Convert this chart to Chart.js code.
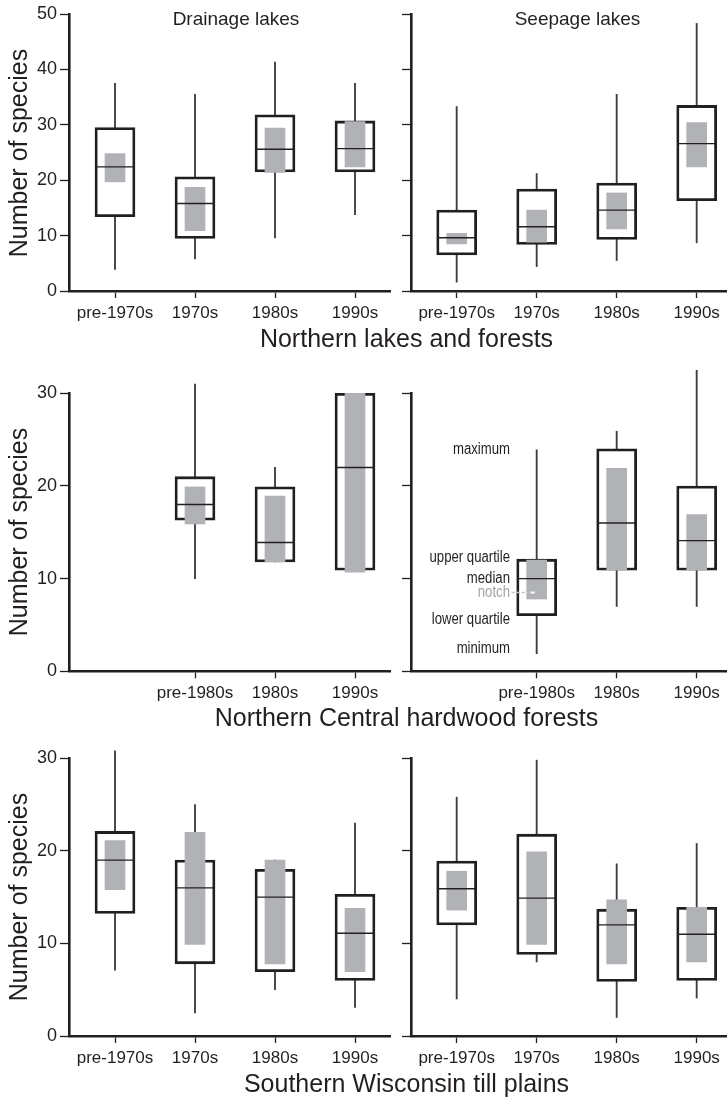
<!DOCTYPE html>
<html>
<head>
<meta charset="utf-8">
<script src="https://cdn.jsdelivr.net/npm/chart.js@4.4.0/dist/chart.umd.min.js"></script>
<style>
  body { margin: 0; background: #fff; width: 727px; height: 1098px; position: relative; overflow: hidden;
         font-family: 'Liberation Sans', Arial, sans-serif; color: #231f20; }
  canvas { position: absolute; }
  .t { position: absolute; white-space: nowrap; }
  .panel { font-size: 19px; line-height: 20px; top: 9.4px; transform: translateX(-50%); }
  .row { font-size: 25px; line-height: 30px; left: 406.5px; transform: translateX(-50%); }
  .ytitle { font-size: 25px; line-height: 30px; height: 30px; width: 278px; left: -121px; text-align: center; transform: rotate(-90deg); }
</style>
</head>
<body>
<canvas id="c1" width="392" height="330" style="left:0;top:0"></canvas>
<canvas id="c2" width="335" height="330" style="left:392px;top:0"></canvas>
<canvas id="c3" width="392" height="340" style="left:0;top:370px"></canvas>
<canvas id="c4" width="335" height="340" style="left:392px;top:370px"></canvas>
<canvas id="c5" width="392" height="340" style="left:0;top:735px"></canvas>
<canvas id="c6" width="335" height="340" style="left:392px;top:735px"></canvas>

<div class="t panel" style="left:236px">Drainage lakes</div>
<div class="t panel" style="left:577.5px">Seepage lakes</div>
<div class="t row" style="top:323px">Northern lakes and forests</div>
<div class="t row" style="top:702.3px">Northern Central hardwood forests</div>
<div class="t row" style="top:1068px">Southern Wisconsin till plains</div>
<div class="t ytitle" style="top:137.5px">Number of species</div>
<div class="t ytitle" style="top:517.3px">Number of species</div>
<div class="t ytitle" style="top:882.2px">Number of species</div>

<script>
// categories and tick labels
var periodsA = ['pre-1970s', '1970s', '1980s', '1990s'];
var periodsB = ['pre-1980s', '1980s', '1990s'];
var slotsA = [1, 2, 3, 4];
var slotsB = [2, 3, 4];
var yTicksTop = [0, 10, 20, 30, 40, 50];
var yTicksLow = [0, 10, 20, 30];

// each row: min, lower quartile, median, upper quartile, max, notch low, notch high
var nlfDrainage = [
  [3.9, 13.4, 22.4, 29.5, 37.5, 19.7, 24.8],
  [5.8, 9.5, 15.8, 20.6, 35.5, 10.9, 18.7],
  [9.6, 21.5, 25.6, 31.8, 41.3, 21.4, 29.4],
  [13.8, 21.5, 25.7, 30.7, 37.5, 22.4, 30.6]
];
var nlfSeepage = [
  [1.6, 6.5, 9.6, 14.6, 33.3, 8.5, 10.4],
  [4.4, 8.4, 11.6, 18.4, 21.2, 8.8, 14.6],
  [5.5, 9.3, 14.6, 19.5, 35.5, 11.2, 17.7],
  [8.7, 16.3, 26.6, 33.5, 48.3, 22.4, 30.4]
];
var nchfDrainage = [
  [10.0, 16.3, 18.0, 21.0, 31.0, 15.9, 19.9],
  [11.8, 11.8, 13.9, 19.9, 22.0, 11.8, 18.9],
  [10.9, 10.9, 22.0, 30.0, 30.0, 10.7, 30.0]
];
var nchfSeepage = [
  [1.9, 6.0, 10.0, 12.1, 23.9, 7.8, 12.0],
  [7.0, 10.9, 16.0, 24.0, 25.9, 10.9, 21.9],
  [7.0, 10.9, 14.1, 20.0, 33.1, 10.9, 16.9]
];
var swtpDrainage = [
  [7.1, 13.25, 19.0, 22.1, 30.8, 15.8, 21.1],
  [2.5, 7.8, 16.0, 19.0, 25.0, 9.9, 22.0],
  [5.0, 6.95, 15.0, 18.0, 19.0, 7.8, 19.0],
  [3.1, 6.0, 11.1, 15.3, 23.0, 6.95, 13.8]
];
var swtpSeepage = [
  [4.0, 12.0, 15.9, 18.9, 25.8, 13.6, 17.8],
  [8.0, 8.8, 14.9, 21.8, 29.8, 9.9, 19.9],
  [2.0, 5.9, 12.0, 13.7, 18.6, 7.8, 14.7],
  [4.1, 6.0, 11.0, 13.9, 20.8, 8.0, 13.9]
];

// legend text drawn beside the first box of the seepage panel
var guideLabels = ['maximum', 'upper quartile', 'median', 'notch', 'lower quartile', 'minimum'];
var guideLevels = [23.9, 12.3, 10.0, 8.5, 5.6, 2.5];

var INK = '#231f20';
Chart.defaults.font.family = "'Liberation Sans', Arial, sans-serif";
Chart.defaults.color = INK;

var guidePlugin = {
  id: 'guide',
  afterDatasetsDraw: function(chart) {
    var ctx = chart.ctx, x = chart.scales.x, y = chart.scales.y;
    var cx = x.getPixelForValue(slotsB[0]);
    ctx.save();
    ctx.font = '16px "Liberation Sans Narrow", "Liberation Sans", sans-serif';
    var sx = Math.min(1, 57 / ctx.measureText('maximum').width);
    ctx.textAlign = 'right';
    ctx.textBaseline = 'middle';
    guideLabels.forEach(function(t, i) {
      ctx.save();
      ctx.translate(cx - 26.7, y.getPixelForValue(guideLevels[i]));
      ctx.scale(sx, 1);
      ctx.fillStyle = t === 'notch' ? '#a3a3a3' : INK;
      ctx.fillText(t, 0, 0);
      ctx.restore();
    });
    var py = y.getPixelForValue(guideLevels[3]);
    ctx.strokeStyle = '#c4c4c4';
    ctx.lineWidth = 1.5;
    ctx.setLineDash([3, 2]);
    ctx.beginPath();
    ctx.moveTo(cx - 25, py);
    ctx.lineTo(cx - 6, py);
    ctx.stroke();
    ctx.fillStyle = '#fff';
    ctx.fillRect(cx - 6, py - 1, 4, 2);
    ctx.restore();
  }
};

function panel(id, rows, slots, names, yTicks, isLeft, padTop, axisH, plugins) {
  var span = function(a, b) { return rows.map(function(r, i) { return {x: slots[i], y: [r[a], r[b]]}; }); };
  var at = function(k) { return rows.map(function(r, i) { return {x: slots[i], y: r[k]}; }); };
  new Chart(document.getElementById(id), {
    type: 'bar',
    data: {
      datasets: [
        {data: span(0, 4), backgroundColor: '#3d3d3d', barThickness: 1.2, maxBarThickness: 1.2, order: 4},
        {data: span(1, 3), backgroundColor: '#fff', borderColor: INK, borderWidth: 2.8, barThickness: 40, maxBarThickness: 40, order: 3},
        {data: span(5, 6), backgroundColor: '#b1b2b5', barThickness: 20, maxBarThickness: 20, order: 2},
        {type: 'scatter', data: at(2), pointStyle: 'line', pointRadius: 19, pointBorderColor: INK, pointBorderWidth: 1.4, borderColor: INK, order: 1, clip: false}
      ]
    },
    options: {
      responsive: false,
      devicePixelRatio: 1,
      animation: false,
      events: [],
      datasets: {bar: {grouped: false, borderSkipped: false, clip: false}},
      layout: {autoPadding: false, padding: {top: padTop, right: isLeft ? 2 : 0, left: 0, bottom: 0}},
      plugins: {legend: {display: false}, tooltip: {enabled: false}},
      scales: {
        x: {
          type: 'linear',
          min: isLeft ? 0.425 : 0.429,
          max: isLeft ? 4.4375 : 4.379,
          offset: false,
          afterBuildTicks: function(s) { s.ticks = slots.map(function(v) { return {value: v}; }); },
          afterFit: function(s) { s.height = axisH; s.paddingLeft = 0; s.paddingRight = 0; },
          ticks: {callback: function(v, i) { return names[i]; }, padding: 5, font: {size: 17}, color: INK, maxRotation: 0, autoSkip: false},
          grid: {display: true, drawOnChartArea: false, offset: false, tickLength: 7, tickWidth: 1.3, tickColor: INK},
          border: {display: true, width: 2.6, color: INK}
        },
        y: {
          type: 'linear',
          min: 0,
          max: yTicks[yTicks.length - 1],
          afterBuildTicks: function(s) { s.ticks = yTicks.map(function(v) { return {value: v}; }); },
          afterFit: function(s) { s.width = isLeft ? 69 : 19; s.paddingTop = 0; s.paddingBottom = 0; },
          ticks: {callback: function(v) { return isLeft ? String(v) : ''; }, padding: 3, font: {size: 18}, color: INK},
          grid: {drawOnChartArea: false, tickLength: 9, tickWidth: 1.3, tickColor: INK},
          border: {display: true, width: 2.6, color: INK}
        }
      }
    },
    plugins: plugins || []
  });
}

panel('c1', nlfDrainage, slotsA, periodsA, yTicksTop, true, 14, 39);
panel('c2', nlfSeepage, slotsA, periodsA, yTicksTop, false, 14, 39);
panel('c3', nchfDrainage, slotsB, periodsB, yTicksLow, true, 23.3, 38.7);
panel('c4', nchfSeepage, slotsB, periodsB, yTicksLow, false, 23.3, 38.7, [guidePlugin]);
panel('c5', swtpDrainage, slotsA, periodsA, yTicksLow, true, 23.3, 39);
panel('c6', swtpSeepage, slotsA, periodsA, yTicksLow, false, 23.3, 39);
</script>
</body>
</html>
